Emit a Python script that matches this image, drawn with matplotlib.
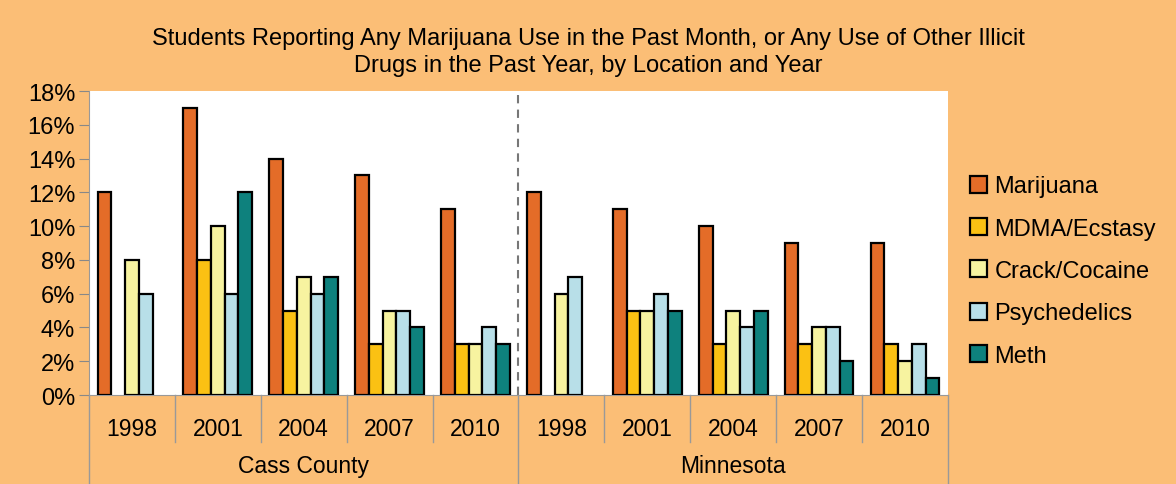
import numpy as np
import matplotlib.pyplot as plt
from matplotlib.lines import Line2D

plt.rcParams['font.family'] = ['Liberation Sans', 'DejaVu Sans']

# Data (percent of students), NaN = not asked that year
locations = ['Cass County', 'Minnesota']
years = ['1998', '2001', '2004', '2007', '2010']
series = ['Marijuana', 'MDMA/Ecstasy', 'Crack/Cocaine', 'Psychedelics', 'Meth']

marijuana = [12, 17, 14, 13, 11, 12, 11, 10, 9, 9]
mdma = [np.nan, 8, 5, 3, 3, np.nan, 5, 3, 3, 3]
crack = [8, 10, 7, 5, 3, 6, 5, 5, 4, 2]
psychedelics = [6, 6, 6, 5, 4, 7, 6, 4, 4, 3]
meth = [np.nan, 12, 7, 4, 3, np.nan, 5, 5, 2, 1]

colors = ['#E46C28', '#FBC113', '#F7F3A0', '#B8DFE8', '#0E817D']
bg = '#FBBE76'

values = [marijuana, mdma, crack, psychedelics, meth]
n_groups = len(marijuana)
x = np.arange(n_groups)
width = 0.16

fig = plt.figure(figsize=(11.76, 4.85), dpi=100, facecolor=bg)
ax = fig.add_axes([0.0757, 0.1835, 0.7303, 0.6268])
ax.set_facecolor('white')

for j, (name, vals) in enumerate(zip(series, values)):
    ax.bar(x + (j - 2) * width, vals, width, color=colors[j], edgecolor='black',
           linewidth=1.6, label=name, zorder=3)

ax.set_xlim(-0.5, n_groups - 0.5)
ax.set_ylim(0, 18)
ax.set_yticks(range(0, 19, 2))
ax.set_yticklabels([f'{v}%' for v in range(0, 19, 2)], fontsize=17)
ax.tick_params(axis='y', length=7, color='#888888', pad=3)
ax.set_xticks([])

for side in ['top', 'right']:
    ax.spines[side].set_visible(False)
ax.spines['left'].set_color('#999999')
ax.spines['bottom'].set_color('#999999')

# Separator between the two locations
ax.axvline(4.5, color='#777777', linestyle=(0, (4, 3)), linewidth=1.5, zorder=1)

# Two-level category axis below the plot
trans = ax.get_xaxis_transform()
for i in range(n_groups + 1):
    bottom = -0.155
    if i % 5 == 0:
        bottom = -0.30
    ax.add_line(Line2D([i - 0.5, i - 0.5], [0, bottom], color='#999999',
                       linewidth=1, transform=trans, clip_on=False))
for i in range(n_groups):
    ax.text(i, -0.11, years[i % 5], transform=trans, ha='center', va='center',
            fontsize=16.5)
for k, loc in enumerate(locations):
    ax.text(k * 5 + 2, -0.232, loc, transform=trans, ha='center', va='center',
            fontsize=16.5)

fig.suptitle('Students Reporting Any Marijuana Use in the Past Month, or Any Use of Other Illicit\n'
             'Drugs in the Past Year, by Location and Year', fontsize=17, y=0.943,
             linespacing=1.3)

leg = fig.legend(loc='center left', bbox_to_anchor=(0.807, 0.439), frameon=False,
                 fontsize=17, handlelength=0.72, handleheight=0.72,
                 handletextpad=0.3, labelspacing=0.86)

plt.savefig('out.png', dpi=100, facecolor=bg)
